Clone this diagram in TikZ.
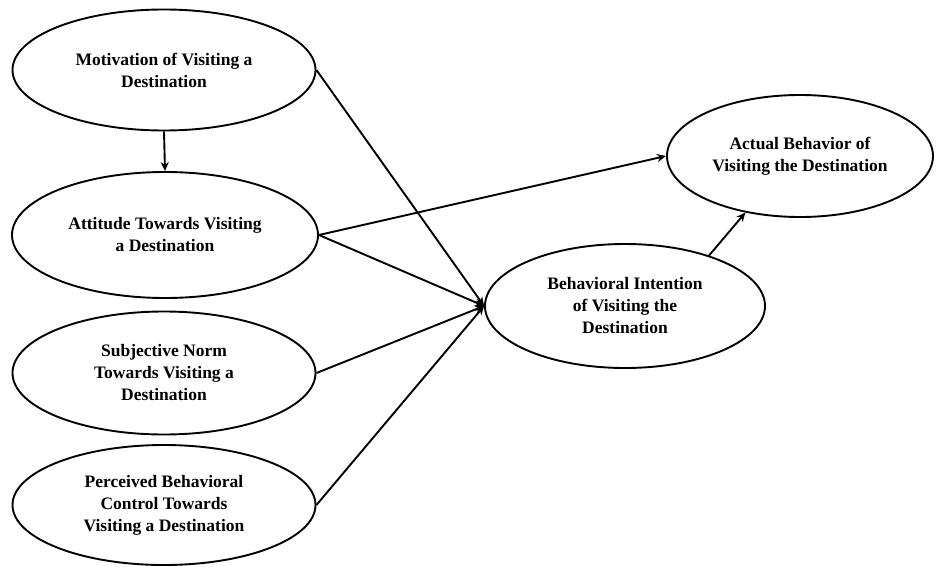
\documentclass[tikz,border=0pt]{standalone}
\usepackage{fontspec}
\setmainfont{Liberation Serif}
\usetikzlibrary{shapes.geometric,arrows.meta}
\begin{document}
\begin{tikzpicture}[x=1pt,y=-1pt,
  oval/.style={ellipse,draw,line width=1.9pt,inner sep=0pt,align=center,
    font=\fontsize{17.5}{22}\selectfont\bfseries},
  link/.style={line width=1.9pt,-{Stealth[length=9pt,width=8pt]}}]
\useasboundingbox (0,0) rectangle (936,567);
\node[oval,minimum width=303pt,minimum height=121pt] (mot) at (164,70) {Motivation of Visiting a\\Destination};
\node[oval,minimum width=306pt,minimum height=126pt] (att) at (165,235) {Attitude Towards Visiting\\a Destination};
\node[oval,minimum width=303pt,minimum height=123pt] (sn) at (164,373) {Subjective Norm\\Towards Visiting a\\Destination};
\node[oval,minimum width=303pt,minimum height=120pt] (pbc) at (164,505) {Perceived Behavioral\\Control Towards\\Visiting a Destination};
\node[oval,minimum width=280pt,minimum height=124pt] (bi) at (625,306) {Behavioral Intention\\of Visiting the\\Destination};
\node[oval,minimum width=266pt,minimum height=122pt] (ab) at (800,156) {Actual Behavior of\\Visiting the Destination};
\draw[link] (mot.south) -- (att.north);
\draw[link] (mot.east) -- (bi.west);
\draw[link] (att.east) -- (bi.west);
\draw[link] (att.east) -- (ab.west);
\draw[link] (sn.east) -- (bi.west);
\draw[link] (pbc.east) -- (bi.west);
\draw[link] (bi.31) -- (ab.226);
\end{tikzpicture}
\end{document}
